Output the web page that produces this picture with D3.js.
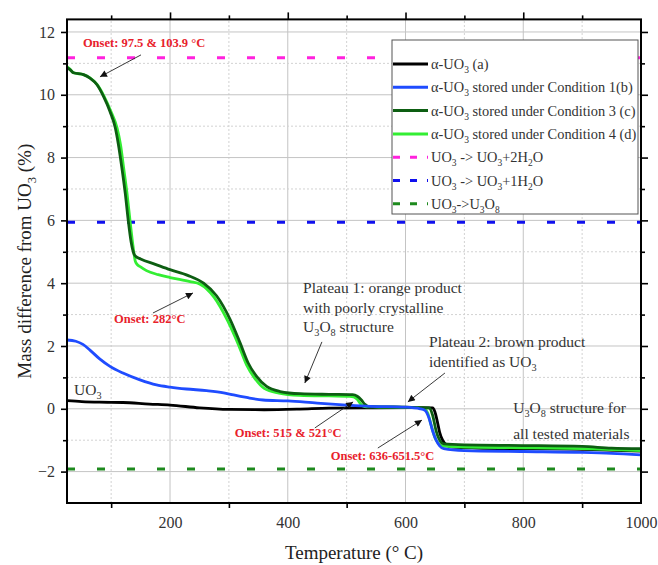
<!DOCTYPE html>
<html>
<head>
<meta charset="utf-8">
<script src="https://cdn.jsdelivr.net/npm/d3@7"></script>
</head>
<body style="margin:0">
<svg id="chart" width="658" height="565" style='font-family: "Liberation Serif"'></svg>
<script>
// --- data ---
// alpha-UO3 (a)
const tempA = [25, 50, 80, 120, 165, 200, 250, 300, 360, 420, 470, 550, 620, 646, 650, 654, 658, 663, 670, 680, 720, 800, 900, 1000];
const massA = [0.26, 0.23, 0.21, 0.2, 0.15, 0.12, 0.03, -0.02, -0.03, -0.01, 0.02, 0.03, 0.04, 0.03, -0.1, -0.4, -0.75, -1.0, -1.16, -1.22, -1.25, -1.27, -1.29, -1.35];
// stored under Condition 1 (b)
const tempB = [25, 40, 52, 64, 81, 98, 121, 149, 177, 200, 228, 262, 291, 308, 330, 358, 400, 450, 500, 540, 600, 625, 633, 640, 646, 652, 658, 665, 700, 800, 900, 950, 1000];
const massB = [2.19, 2.15, 2.05, 1.87, 1.58, 1.35, 1.13, 0.92, 0.76, 0.69, 0.63, 0.58, 0.51, 0.44, 0.36, 0.28, 0.25, 0.18, 0.12, 0.08, 0.05, 0.0, -0.05, -0.3, -0.7, -1.0, -1.18, -1.27, -1.33, -1.36, -1.39, -1.42, -1.47];
// stored under Condition 3 (c)
const tempC = [25, 30, 36, 53, 64, 76, 87, 98, 107, 112, 118, 124, 129, 134, 139, 142, 150, 175, 200, 230, 257, 279, 302, 319, 333, 347, 364, 387, 421, 470, 510, 518, 525, 531, 536, 545, 580, 620, 640, 646, 652, 658, 665, 700, 800, 900, 950, 1000];
const massC = [10.86, 10.8, 10.7, 10.64, 10.53, 10.32, 9.95, 9.47, 8.95, 8.45, 7.7, 6.85, 6.0, 5.3, 4.92, 4.85, 4.77, 4.6, 4.43, 4.25, 4.0, 3.6, 2.85, 2.1, 1.45, 1.03, 0.71, 0.55, 0.48, 0.46, 0.45, 0.4, 0.28, 0.14, 0.08, 0.07, 0.06, 0.04, 0.03, -0.2, -0.7, -1.0, -1.12, -1.15, -1.17, -1.2, -1.25, -1.27];
// stored under Condition 4 (d)
const tempD = [25, 30, 36, 53, 64, 76, 88, 100, 110, 116, 121, 127, 132, 137, 141, 144, 150, 160, 180, 200, 234, 251, 275, 298, 316, 330, 344, 360, 385, 420, 470, 505, 512, 518, 524, 530, 545, 580, 620, 632, 638, 644, 650, 656, 662, 700, 800, 900, 1000];
const massD = [10.9, 10.82, 10.7, 10.64, 10.54, 10.33, 9.95, 9.45, 8.95, 8.4, 7.7, 6.85, 6.0, 5.2, 4.7, 4.6, 4.52, 4.4, 4.27, 4.18, 4.05, 3.97, 3.55, 2.8, 2.05, 1.4, 0.97, 0.65, 0.5, 0.43, 0.41, 0.4, 0.38, 0.3, 0.15, 0.07, 0.06, 0.05, 0.04, 0.0, -0.15, -0.55, -0.92, -1.1, -1.18, -1.22, -1.24, -1.27, -1.33];
// reference (theoretical) levels
const refLevels = [11.18, 5.94, -1.92];

const xTicks = [200, 400, 600, 800, 1000];
const xMinor = [100, 300, 500, 700, 900];
const yTicks = [-2, 0, 2, 4, 6, 8, 10, 12];
const yMinor = [-1, 1, 3, 5, 7, 9, 11];

// legend labels: alternating normal / subscript pieces
const legendLabels = [
  ["\u03b1-UO", "3", " (a)"],
  ["\u03b1-UO", "3", " stored under Condition 1(b)"],
  ["\u03b1-UO", "3", " stored under Condition 3 (c)"],
  ["\u03b1-UO", "3", " stored under Condition 4 (d)"],
  ["UO", "3", " -> UO", "3", "+2H", "2", "O"],
  ["UO", "3", " -> UO", "3", "+1H", "2", "O"],
  ["UO", "3", "->U", "3", "O", "8"]
];

const FONT = '"Liberation Serif"';
const width = 658, height = 565;
const margin = {top: 19.4, right: 17, bottom: 62, left: 67};

const svg = d3.select("#chart");

const x = d3.scaleLinear().domain([25, 1000]).range([margin.left, width - margin.right]);
const y = d3.scaleLinear().domain([-3, 12.4]).range([height - margin.bottom, margin.top]);

const x0 = margin.left, x1 = width - margin.right, y0 = height - margin.bottom, y1 = margin.top;

// grid
const grid = svg.append("g");
grid.selectAll(".gx").data(xTicks.slice(0, 4)).enter().append("line")
  .attr("x1", d => x(d)).attr("x2", d => x(d)).attr("y1", y0).attr("y2", y1)
  .attr("stroke", "#c4c4c4").attr("stroke-width", 1);
grid.selectAll(".gxm").data(xMinor).enter().append("line")
  .attr("x1", d => x(d)).attr("x2", d => x(d)).attr("y1", y0).attr("y2", y1)
  .attr("stroke", "#d2d2d2").attr("stroke-width", 1).attr("stroke-dasharray", "2,2");
grid.selectAll(".gy").data(yTicks).enter().append("line")
  .attr("x1", x0).attr("x2", x1).attr("y1", d => y(d)).attr("y2", d => y(d))
  .attr("stroke", "#c4c4c4").attr("stroke-width", 1);
grid.selectAll(".gym").data(yMinor).enter().append("line")
  .attr("x1", x0).attr("x2", x1).attr("y1", d => y(d)).attr("y2", d => y(d))
  .attr("stroke", "#d2d2d2").attr("stroke-width", 1).attr("stroke-dasharray", "2,2");

// reference dashed levels
const refColors = ["#ff22dd", "#1010ee", "#1e8a1e"];
svg.selectAll(".ref").data(refLevels).enter().append("line")
  .attr("x1", x0).attr("x2", x1).attr("y1", d => y(d)).attr("y2", d => y(d))
  .attr("stroke", (d, i) => refColors[i]).attr("stroke-width", 3)
  .attr("stroke-dasharray", "8,22");

// curves
const line = d3.line().x(d => x(d[0])).y(d => y(d[1])).curve(d3.curveMonotoneX);
const series = [
  {t: tempA, m: massA, color: "#000000"},
  {t: tempD, m: massD, color: "#33ee33"},
  {t: tempC, m: massC, color: "#0d5e12"},
  {t: tempB, m: massB, color: "#1f4cff"}
];
series.forEach(s => {
  svg.append("path")
    .datum(d3.zip(s.t, s.m))
    .attr("fill", "none")
    .attr("stroke", s.color)
    .attr("stroke-width", 2.8)
    .attr("stroke-linejoin", "round")
    .attr("d", line);
});

// axes
function styleAxis(g) {
  g.attr("font-family", null);
  g.select(".domain").remove();
  g.selectAll("line").attr("stroke", "#000").attr("stroke-width", 1.6);
  g.selectAll("text").style("font-family", FONT).attr("font-size", 16).attr("fill", "#333");
}
svg.append("g").attr("transform", `translate(0,${y0})`)
  .call(d3.axisBottom(x).tickValues(xTicks).tickSize(0).tickPadding(14).tickFormat(d3.format("d")))
  .call(styleAxis);
svg.append("g").attr("transform", `translate(0,${y0})`)
  .call(d3.axisBottom(x).tickValues(xMinor).tickSize(5).tickFormat(""))
  .call(styleAxis);
svg.append("g").attr("transform", `translate(0,${y1})`)
  .call(d3.axisTop(x).tickValues(xTicks.slice(0, 4)).tickSize(7).tickFormat(""))
  .call(styleAxis);
svg.append("g").attr("transform", `translate(0,${y1})`)
  .call(d3.axisTop(x).tickValues(xMinor).tickSize(4).tickFormat(""))
  .call(styleAxis);
svg.append("g").attr("transform", `translate(${x0},0)`)
  .call(d3.axisLeft(y).tickValues(yTicks).tickSize(6).tickPadding(6))
  .call(styleAxis);
svg.append("g").attr("transform", `translate(${x0},0)`)
  .call(d3.axisLeft(y).tickValues(yMinor).tickSize(4).tickFormat(""))
  .call(styleAxis);
svg.append("g").attr("transform", `translate(${x1},0)`)
  .call(d3.axisRight(y).tickValues(yTicks).tickSize(7).tickFormat(""))
  .call(styleAxis);
svg.append("g").attr("transform", `translate(${x1},0)`)
  .call(d3.axisRight(y).tickValues(yMinor).tickSize(4).tickFormat(""))
  .call(styleAxis);

// frame
svg.append("rect").attr("x", x0).attr("y", y1).attr("width", x1 - x0).attr("height", y0 - y1)
  .attr("fill", "none").attr("stroke", "#000").attr("stroke-width", 2);

// text with subscripts
function richText(sel, parts, shift) {
  sel.style("font-family", FONT);
  parts.forEach((s, i) => {
    const ts = sel.append("tspan").text(s);
    if (i % 2 === 1) ts.attr("dy", shift).attr("font-size", "0.66em");
    else if (i > 0) ts.attr("dy", -shift);
  });
  return sel;
}

// axis titles
svg.append("text").attr("x", (x0 + x1) / 2).attr("y", 559)
  .style("font-family", FONT)
  .attr("text-anchor", "middle").attr("font-size", 19).attr("fill", "#222")
  .text("Temperature (\u00b0 C)");
richText(svg.append("text")
  .attr("transform", `translate(31,${(y0 + y1) / 2}) rotate(-90)`)
  .attr("text-anchor", "middle").attr("font-size", 19).attr("fill", "#222"),
  ["Mass difference from UO", "3", " (%)"], 5);

// legend
const lg = svg.append("g");
const lgX = 392, lgY = 40, lgW = 246, lgH = 174, rowH = 23.3;
lg.append("rect").attr("x", lgX).attr("y", lgY).attr("width", lgW).attr("height", lgH)
  .attr("fill", "#fff").attr("stroke", "#555").attr("stroke-width", 1);
const legendColors = ["#000000", "#1f4cff", "#0d5e12", "#33ee33"].concat(refColors);
legendLabels.forEach((lab, i) => {
  const cy = lgY + 24 + i * rowH;
  const dashed = i >= 4;
  lg.append("line").attr("x1", lgX + 1).attr("x2", lgX + 36).attr("y1", cy).attr("y2", cy)
    .attr("stroke", legendColors[i]).attr("stroke-width", 3)
    .attr("stroke-dasharray", dashed ? "7,10" : null);
  richText(lg.append("text").attr("x", lgX + 39).attr("y", cy + 5)
    .attr("font-size", 14.4).attr("fill", "#333"), lab, 4);
});

// annotations
svg.append("defs").append("marker")
  .attr("id", "arr").attr("viewBox", "0 0 10 10").attr("refX", 10).attr("refY", 5)
  .attr("markerWidth", 9).attr("markerHeight", 7).attr("markerUnits", "userSpaceOnUse")
  .attr("orient", "auto")
  .append("path").attr("d", "M0,0 L10,5 L0,10 z").attr("fill", "#111");

const arrows = [
  [150.7, 11.27, 81, 10.57],
  [171, 3.05, 239, 3.69],
  [458, 2.13, 429, 0.82],
  [446, -0.61, 511, 0.22],
  [553, -1.25, 628, -0.36],
  [667, 1.14, 604, 0.22]
];
svg.selectAll(".arrow").data(arrows).enter().append("line")
  .attr("x1", d => x(d[0])).attr("y1", d => y(d[1]))
  .attr("x2", d => x(d[2])).attr("y2", d => y(d[3]))
  .attr("stroke", "#222").attr("stroke-width", 0.9).attr("marker-end", "url(#arr)");

const redNotes = [
  {t: 52, v: 11.52, s: "Onset: 97.5 & 103.9 \u00b0C"},
  {t: 105, v: 2.73, s: "Onset: 282\u00b0C"},
  {t: 310, v: -0.9, s: "Onset: 515 & 521\u00b0C"},
  {t: 473, v: -1.63, s: "Onset: 636-651.5\u00b0C"}
];
svg.selectAll(".red").data(redNotes).enter().append("text")
  .attr("x", d => x(d.t)).attr("y", d => y(d.v))
  .style("font-family", FONT)
  .attr("font-size", 12.5).attr("font-weight", "bold").attr("fill", "#e8212b")
  .text(d => d.s);

const blackNotes = [
  {t: 426, v: 3.69, p: ["Plateau 1: orange product"]},
  {t: 426, v: 3.05, p: ["with poorly crystalline"]},
  {t: 426, v: 2.45, p: ["U", "3", "O", "8", " structure"]},
  {t: 640, v: 1.97, p: ["Plateau 2: brown product"]},
  {t: 640, v: 1.33, p: ["identified as UO", "3"]},
  {t: 783, v: -0.13, p: ["U", "3", "O", "8", " structure for"]},
  {t: 783, v: -0.96, p: ["all tested materials"]},
  {t: 37, v: 0.44, p: ["UO", "3"]}
];
blackNotes.forEach(n => {
  richText(svg.append("text").attr("x", x(n.t)).attr("y", y(n.v))
    .attr("font-size", 15.5).attr("fill", "#333"), n.p, 4);
});
</script>
</body>
</html>
